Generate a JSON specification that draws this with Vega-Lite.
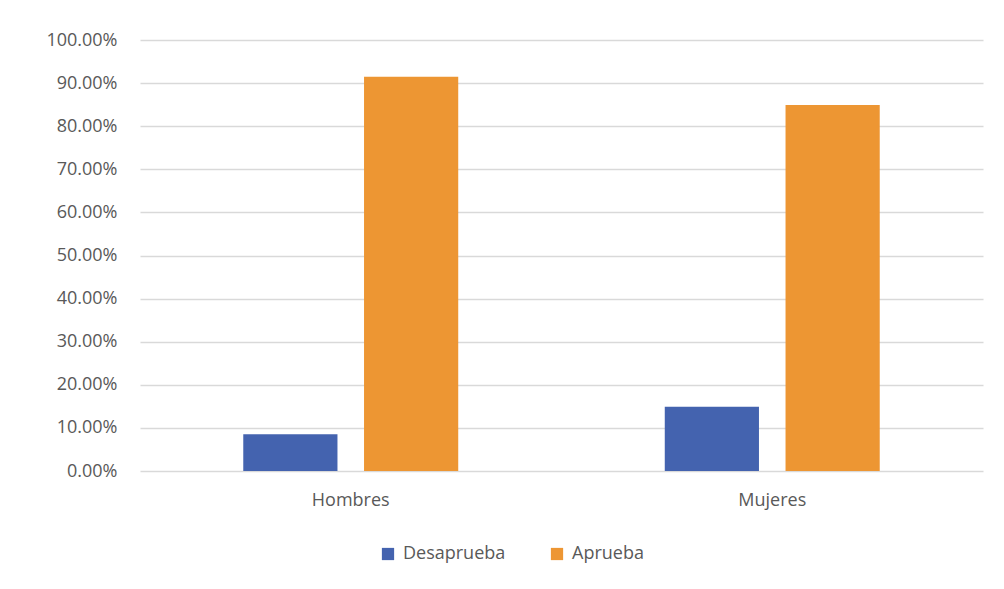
{
  "$schema": "https://vega.github.io/schema/vega-lite/v6.json",
  "width": 843,
  "height": 431,
  "autosize": {"type": "none"},
  "padding": {"left": 140, "top": 40, "right": 21, "bottom": 118},
  "background": "white",
  "data": {
    "values": [
      {"grupo": "Hombres", "opinion": "Desaprueba", "valor": 0.085},
      {"grupo": "Hombres", "opinion": "Aprueba", "valor": 0.915},
      {"grupo": "Mujeres", "opinion": "Desaprueba", "valor": 0.149},
      {"grupo": "Mujeres", "opinion": "Aprueba", "valor": 0.849}
    ]
  },
  "mark": {"type": "bar"},
  "encoding": {
    "x": {
      "field": "grupo",
      "type": "nominal",
      "sort": ["Hombres", "Mujeres"],
      "scale": {"paddingInner": 0.49, "paddingOuter": 0.245},
      "axis": {
        "title": null,
        "labelAngle": 0,
        "domain": false,
        "ticks": false,
        "labelPadding": 20,
        "labelFont": "Open Sans",
        "labelFontSize": 18,
        "labelColor": "#595959"
      }
    },
    "xOffset": {
      "field": "opinion",
      "type": "nominal",
      "sort": ["Desaprueba", "Aprueba"],
      "scale": {"paddingInner": 0.22, "paddingOuter": 0}
    },
    "y": {
      "field": "valor",
      "type": "quantitative",
      "scale": {"domain": [0, 1], "nice": false},
      "axis": {
        "title": null,
        "values": [0, 0.1, 0.2, 0.3, 0.4, 0.5, 0.6, 0.7, 0.8, 0.9, 1.0],
        "format": ".2%",
        "domain": false,
        "ticks": false,
        "labelPadding": 23,
        "labelFont": "Open Sans",
        "labelFontSize": 18,
        "labelColor": "#595959",
        "gridColor": "#d9d9d9",
        "gridWidth": 1.5
      }
    },
    "color": {
      "field": "opinion",
      "type": "nominal",
      "sort": ["Desaprueba", "Aprueba"],
      "scale": {"domain": ["Desaprueba", "Aprueba"], "range": ["#4463AF", "#ED9633"]},
      "legend": {
        "title": null,
        "orient": "none",
        "direction": "horizontal",
        "legendX": 239,
        "legendY": 505,
        "symbolType": "square",
        "symbolSize": 150,
        "symbolStrokeWidth": 0,
        "labelFont": "Open Sans",
        "labelFontSize": 18,
        "labelColor": "#595959",
        "labelOffset": 6,
        "columnPadding": 42
      }
    }
  },
  "config": {
    "view": {"stroke": null}
  }
}
